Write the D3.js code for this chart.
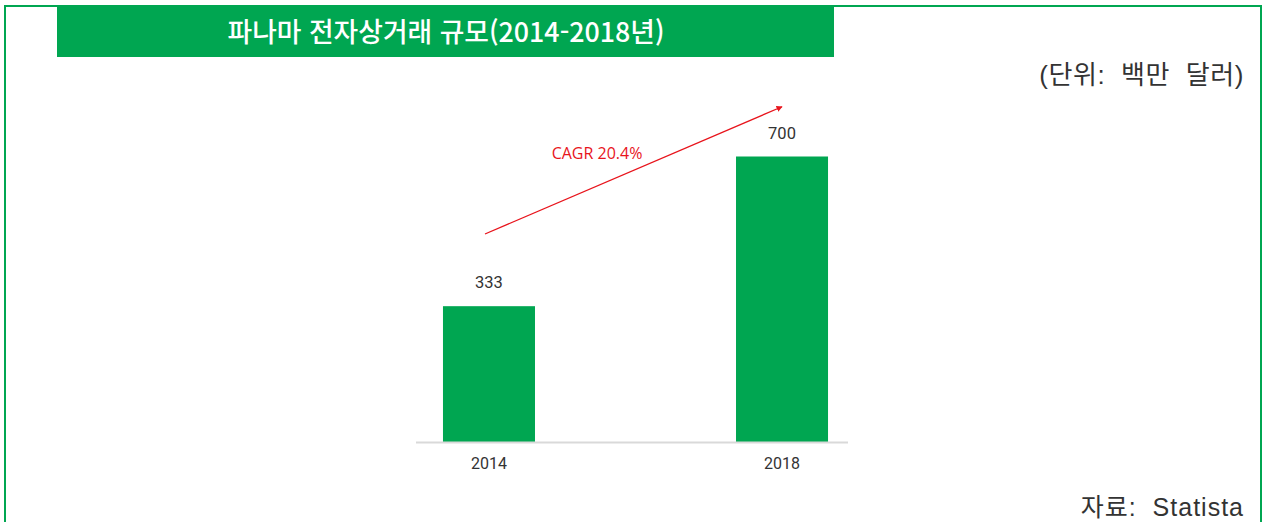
<!DOCTYPE html>
<html lang="ko">
<head>
<meta charset="utf-8">
<script src="https://cdn.jsdelivr.net/npm/d3@7"></script>
<style>
  html, body { margin: 0; padding: 0; background: #fff; }
  svg { display: block; }
  .note { white-space: pre; }
</style>
</head>
<body>
<svg id="chart" width="1264" height="522"></svg>
<script>
// Panama e-commerce market size, USD millions
const years = ["2014", "2018"];
const values = [333, 700];
const titleText = "파나마 전자상거래 규모(2014-2018년)";
const unitText = "(단위:  백만  달러)";
const sourceText = "자료:  Statista";
const cagrText = "CAGR 20.4%";
// growth arrow endpoints, in (year, value) units
const arrowFrom = ["2014", 510];
const arrowTo = ["2018", 822];

const green = "#00a651";
const noteFont = "'Liberation Sans', 'Noto Sans CJK KR', sans-serif";
const svg = d3.select("#chart");

// outer frame
svg.append("rect")
  .attr("x", 5).attr("y", 6)
  .attr("width", 1256).attr("height", 540)
  .attr("fill", "none")
  .attr("stroke", green)
  .attr("stroke-width", 2);

// title banner
svg.append("rect")
  .attr("x", 57).attr("y", 7)
  .attr("width", 777).attr("height", 50)
  .attr("fill", green);
svg.append("text")
  .attr("x", 446).attr("y", 42)
  .attr("text-anchor", "middle")
  .attr("textLength", 437)
  .attr("lengthAdjust", "spacingAndGlyphs")
  .attr("fill", "#fff")
  .style("font-family", "'Noto Sans CJK KR', sans-serif")
  .style("font-weight", 500)
  .style("font-size", "27px")
  .text(titleText);

// unit and source notes
svg.append("text")
  .attr("class", "note")
  .attr("x", 1244).attr("y", 84)
  .attr("text-anchor", "end")
  .attr("fill", "#333")
  .style("font-family", noteFont)
  .style("font-size", "26px")
  .style("letter-spacing", "0.6px")
  .text(unitText);
svg.append("text")
  .attr("class", "note")
  .attr("x", 1244).attr("y", 516)
  .attr("text-anchor", "end")
  .attr("fill", "#333")
  .style("font-family", noteFont)
  .style("font-size", "25px")
  .style("letter-spacing", "1px")
  .text(sourceText);

// scales
const x = d3.scaleBand()
  .domain(years)
  .range([416.6, 854.4])
  .paddingInner(0.686)
  .paddingOuter(0.09);
const y = d3.scaleLinear()
  .domain([0, 700])
  .range([442, 156.5]);

// bars
svg.append("g")
  .selectAll("rect")
  .data(values)
  .join("rect")
  .attr("x", (d, i) => x(years[i]))
  .attr("y", d => y(d))
  .attr("width", x.bandwidth())
  .attr("height", d => y(0) - y(d))
  .attr("fill", green);

// value labels
svg.append("g")
  .selectAll("text")
  .data(values)
  .join("text")
  .attr("x", (d, i) => x(years[i]) + x.bandwidth() / 2)
  .attr("y", d => y(d) - 18)
  .attr("text-anchor", "middle")
  .attr("fill", "#333")
  .style("font-family", "Roboto, sans-serif")
  .style("font-size", "16.5px")
  .text(d => d3.format(",")(d));

// category axis
const xAxis = svg.append("g")
  .attr("transform", `translate(0,${y(0)})`)
  .call(d3.axisBottom(x).tickSize(0).tickPadding(16));
xAxis.select(".domain")
  .attr("d", "M416,0.5H848")
  .attr("stroke", "#d9d9d9")
  .attr("stroke-width", 2);
xAxis.selectAll("text")
  .attr("fill", "#333")
  .style("font-family", "Roboto, sans-serif")
  .style("font-size", "16px");

// growth arrow
const defs = svg.append("defs");
defs.append("marker")
  .attr("id", "arrowhead")
  .attr("viewBox", "0 0 10 10")
  .attr("refX", 9).attr("refY", 5)
  .attr("markerWidth", 6).attr("markerHeight", 6)
  .attr("markerUnits", "userSpaceOnUse")
  .attr("orient", "auto")
  .append("path")
  .attr("d", "M0,0L10,5L0,10Z")
  .attr("fill", "#e8141c");

const cx = k => x(k) + x.bandwidth() / 2;
svg.append("line")
  .attr("x1", cx(arrowFrom[0]) - 4).attr("y1", y(arrowFrom[1]))
  .attr("x2", cx(arrowTo[0])).attr("y2", y(arrowTo[1]))
  .attr("stroke", "#e8141c")
  .attr("stroke-width", 1.3)
  .attr("marker-end", "url(#arrowhead)");

svg.append("text")
  .attr("x", 597).attr("y", 159)
  .attr("text-anchor", "middle")
  .attr("fill", "#e8141c")
  .style("font-family", "'Open Sans', sans-serif")
  .style("font-size", "16px")
  .text(cagrText);
</script>
</body>
</html>
